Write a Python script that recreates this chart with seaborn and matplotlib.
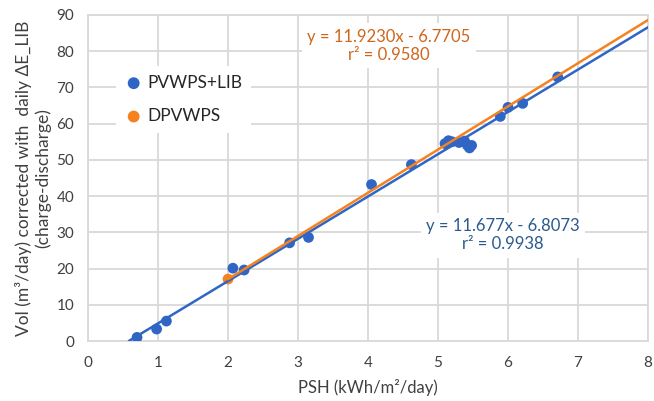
import numpy as np
import pandas as pd
import matplotlib
matplotlib.use("Agg")
import matplotlib.pyplot as plt
import seaborn as sns

sns.set_theme(style="whitegrid")
plt.rcParams['font.family'] = ['Lato', 'DejaVu Sans']

# ---- data ----
lib_psh = [0.70, 0.98, 1.12, 2.07, 2.23, 2.88, 3.15, 4.05, 4.62,
           5.10, 5.15, 5.20, 5.30, 5.38, 5.42, 5.45, 5.48,
           5.89, 6.00, 6.21, 6.71]
lib_vol = [1.0, 3.3, 5.5, 20.1, 19.6, 27.1, 28.6, 43.2, 48.7,
           54.5, 55.3, 55.0, 54.8, 55.2, 54.0, 53.3, 54.0,
           62.0, 64.5, 65.6, 72.9]
dp_psh = [2.0]
dp_vol = [17.1]

# trend lines (coefficients shown on chart)
lib_slope, lib_icpt = 11.677, -6.8073
dp_slope, dp_icpt = 11.9230, -6.7705
lib_x = [0.583, 8.0]
dp_x = [2.0, 8.0]

blue = '#2F66C6'
orange = '#F5821F'

df_lib = pd.DataFrame({'psh': lib_psh, 'vol': lib_vol})
df_dp = pd.DataFrame({'psh': dp_psh, 'vol': dp_vol})

fig = plt.figure(figsize=(6.54, 4.01), dpi=100)
ax = fig.add_axes([0.1346, 0.1496, 0.8562, 0.813])

sns.scatterplot(data=df_dp, x='psh', y='vol', ax=ax, color=orange, s=60,
                edgecolor='none', label='DPVWPS', zorder=3)
sns.scatterplot(data=df_lib, x='psh', y='vol', ax=ax, color=blue, s=60,
                edgecolor='none', label='PVWPS+LIB', zorder=4)

lx = np.array(lib_x)
dx = np.array(dp_x)
ax.plot(lx, lib_slope * lx + lib_icpt, color=blue, lw=1.8, zorder=5)
ax.plot(dx, dp_slope * dx + dp_icpt, color=orange, lw=1.8, zorder=6)

ax.set_xlim(0, 8)
ax.set_ylim(0, 90)
ax.set_xticks(range(0, 9))
ax.set_yticks(range(0, 91, 10))
ax.grid(True, color='#D9D9D9', lw=1.3)
for s in ax.spines.values():
    s.set_color('#D9D9D9')
    s.set_linewidth(1.3)
ax.tick_params(axis='both', length=0, labelsize=11, colors='#404040')
ax.tick_params(axis='x', pad=11)
ax.tick_params(axis='y', pad=10)

ax.set_xlabel('PSH (kWh/m²/day)', fontsize=12, color='#404040', labelpad=6)
ax.set_ylabel('Vol (m³/day) corrected with  daily ΔE_LIB\n(charge-discharge)',
              fontsize=12.5, color='#404040', labelpad=4, linespacing=1.2)

ax.text(4.3, 81.5, 'y = 11.9230x - 6.7705\nr² = 0.9580', color='#D0661C',
        fontsize=12, ha='center', va='center', linespacing=1.15, zorder=7,
        bbox=dict(facecolor='white', edgecolor='none', pad=4))
ax.text(5.93, 29.2, 'y = 11.677x - 6.8073\nr² = 0.9938', color='#2A5A8E',
        fontsize=12, ha='center', va='center', linespacing=1.15, zorder=7,
        bbox=dict(facecolor='white', edgecolor='none', pad=4))

handles, labels = ax.get_legend_handles_labels()
order = [labels.index('PVWPS+LIB'), labels.index('DPVWPS')]
leg = ax.legend([handles[i] for i in order], [labels[i] for i in order],
                loc='upper left', bbox_to_anchor=(0.035, 0.87), frameon=True,
                facecolor='white', edgecolor='none', framealpha=1,
                fontsize=12.5, handlelength=1.0, handletextpad=0.3,
                labelspacing=1.0, borderpad=0.5, markerscale=1.1,
                fancybox=False)
leg.set_zorder(8)

fig.savefig('out.png', dpi=100)
